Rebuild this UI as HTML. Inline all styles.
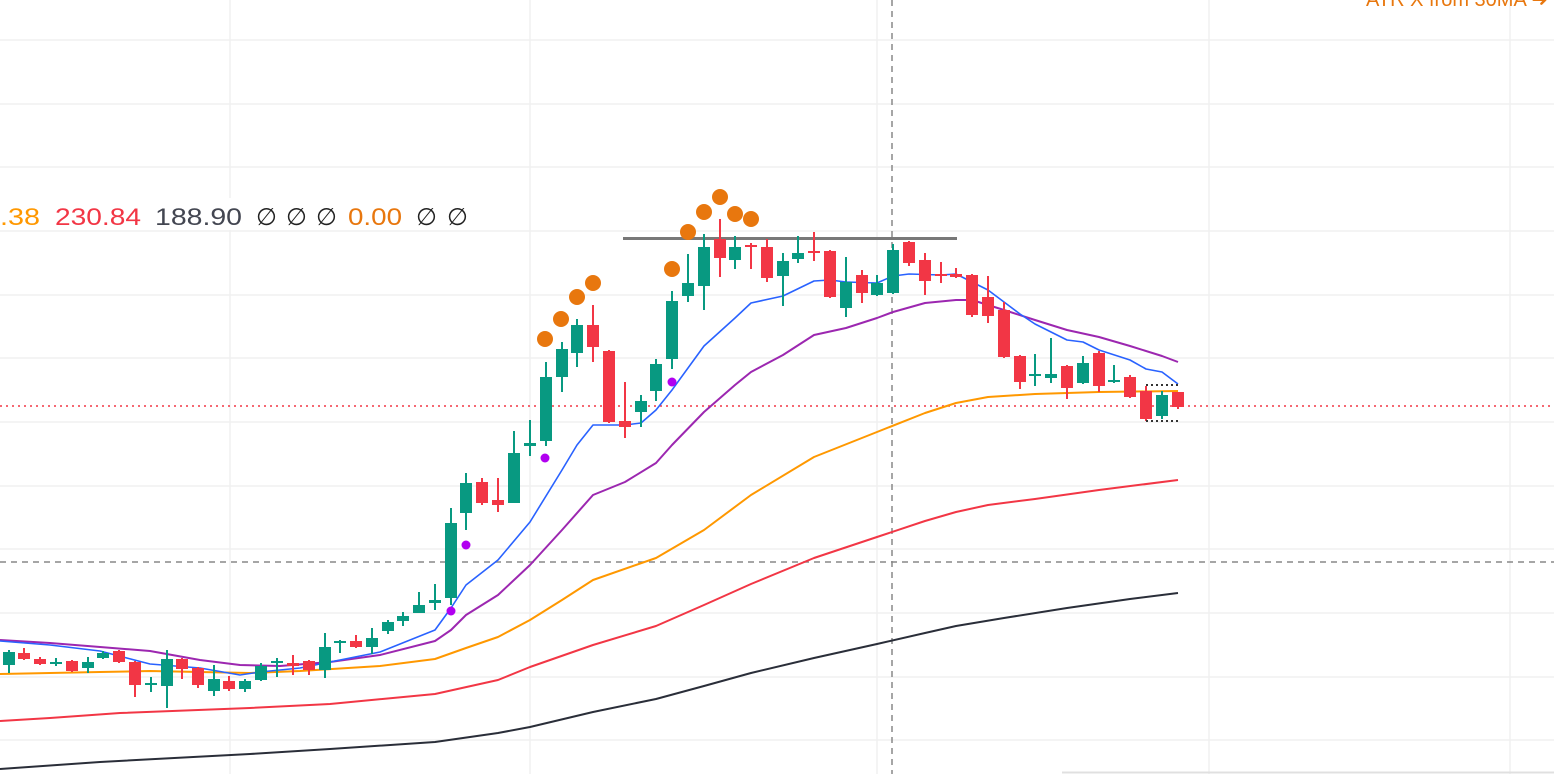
<!DOCTYPE html>
<html><head><meta charset="utf-8"><style>
html,body{margin:0;padding:0;background:#fff;overflow:hidden}
svg{display:block}
text{font-family:"Liberation Sans",sans-serif}
</style></head><body>
<svg width="1554" height="774" viewBox="0 0 1554 774" xmlns="http://www.w3.org/2000/svg">
<g stroke="#f0f0f0" stroke-width="1.5">
<line x1="0" y1="40" x2="1554" y2="40"/><line x1="0" y1="104" x2="1554" y2="104"/><line x1="0" y1="167" x2="1554" y2="167"/><line x1="0" y1="231" x2="1554" y2="231"/><line x1="0" y1="295" x2="1554" y2="295"/><line x1="0" y1="358" x2="1554" y2="358"/><line x1="0" y1="422" x2="1554" y2="422"/><line x1="0" y1="486" x2="1554" y2="486"/><line x1="0" y1="549" x2="1554" y2="549"/><line x1="0" y1="613" x2="1554" y2="613"/><line x1="0" y1="677" x2="1554" y2="677"/><line x1="0" y1="740" x2="1554" y2="740"/>
<line x1="230" y1="0" x2="230" y2="774"/><line x1="530" y1="0" x2="530" y2="774"/><line x1="877" y1="0" x2="877" y2="774"/><line x1="1209" y1="0" x2="1209" y2="774"/><line x1="1510" y1="0" x2="1510" y2="774"/>
</g>
<line x1="1062" y1="772.5" x2="1554" y2="772.5" stroke="#e0e0e0" stroke-width="2"/>
<rect x="0" y="198" width="470" height="32" fill="#fff"/>
<line x1="0" y1="406" x2="1554" y2="406" stroke="#f23645" stroke-width="1.5" stroke-dasharray="2,4"/>
<line x1="0" y1="562" x2="1554" y2="562" stroke="#888" stroke-width="1.5" stroke-dasharray="6,5"/>
<line x1="892" y1="0" x2="892" y2="774" stroke="#888" stroke-width="1.5" stroke-dasharray="6,5"/>
<g fill="none" stroke-width="2" stroke-linejoin="round">
<polyline stroke="#2a2e39" points="0,769 100,762 250,754 330,749 435,742 498,733 530,727 593,712 656,699 704,686 751,673 814,658 877,644 925,633 956,626 1004,618 1067,608 1130,599 1178,593"/>
<polyline stroke="#f23645" points="0,721 50,718 120,713 250,708 330,704 435,694 498,680 530,667 593,645 656,626 704,605 751,584 814,558 877,537 925,521 956,512 988,505 1035,499 1099,490 1178,480"/>
<polyline stroke="#ff9800" points="0,674 100,672 150,671 250,673 300,671 380,666 435,659 466,648 498,637 530,620 562,600 593,580 656,558 704,530 751,495 814,457 877,432 925,413 956,403 988,397 1035,394 1099,392 1178,391"/>
<polyline stroke="#9c27b0" points="0,640 50,643 100,647 150,651 200,660 240,665 280,666 330,662 380,655 435,641 451,630 466,615 498,595 530,565 562,530 593,495 625,482 656,463 672,445 704,412 735,385 751,372 783,355 814,335 846,328 877,318 893,312 925,303 956,300 972,300 1004,310 1035,320 1067,330 1099,337 1130,346 1162,356 1178,362"/>
<polyline stroke="#2962ff" stroke-width="1.6" points="0,641 50,645 100,651 150,664 200,668 240,675 260,672 300,668 330,662 380,652 435,630 451,608 466,585 498,560 530,522 562,470 577,445 593,425 625,425 641,423 656,410 672,390 704,346 735,318 751,303 783,296 814,281 830,280 846,282 877,283 893,276 909,274 941,275 956,274 972,282 988,290 1004,302 1020,314 1035,324 1051,332 1067,340 1083,342 1099,350 1130,360 1146,369 1162,372 1178,384"/>
</g>
<line x1="623" y1="238.5" x2="957" y2="238.5" stroke="#787878" stroke-width="3"/>
<g id="c"></g>
<g fill="#e8770e">
<circle cx="545" cy="339" r="8"/><circle cx="561" cy="319" r="8"/><circle cx="577" cy="297" r="8"/><circle cx="593" cy="283" r="8"/><circle cx="672" cy="269" r="8"/><circle cx="688" cy="232" r="8"/><circle cx="704" cy="212" r="8"/><circle cx="720" cy="197" r="8"/><circle cx="735" cy="214" r="8"/><circle cx="751" cy="219" r="8"/>
</g>
<g fill="#b100f0"><circle cx="451" cy="611" r="4.5"/><circle cx="466" cy="545" r="4.5"/><circle cx="545" cy="458" r="4.5"/><circle cx="672" cy="382" r="4.5"/></g>
<g stroke="#333" stroke-width="2" stroke-dasharray="2,3"><line x1="1146" y1="385" x2="1178" y2="385"/><line x1="1146" y1="421" x2="1178" y2="421"/></g>
<g font-size="24">
<text x="0" y="225" fill="#ff9800" textLength="40" lengthAdjust="spacingAndGlyphs">.38</text>
<text x="55" y="225" fill="#f23645" textLength="86" lengthAdjust="spacingAndGlyphs">230.84</text>
<text x="155" y="225" fill="#434651" textLength="87" lengthAdjust="spacingAndGlyphs">188.90</text>
<text x="256" y="225" fill="#222">∅</text>
<text x="286" y="225" fill="#222">∅</text>
<text x="316" y="225" fill="#222">∅</text>
<text x="348" y="225" fill="#e8770e" textLength="54" lengthAdjust="spacingAndGlyphs">0.00</text>
<text x="416" y="225" fill="#222">∅</text>
<text x="447" y="225" fill="#222">∅</text>
</g>
<text x="1548" y="6" font-size="20" fill="#e8770e" text-anchor="end">ATR X from 30MA ➜</text>
</svg>
<script>
const d=[[9,'g',652,665,650,673],[24,'r',653,659,648,660],[40,'r',659,664,657,665],[56,'g',662,664,658,666],[72,'r',661,671,660,672],[88,'g',662,668,657,673],[103,'g',653,658,651,659],[119,'r',651,662,650,663],[135,'r',662,685,661,697],[151,'g',683,685,677,692],[167,'g',659,686,650,708],[182,'r',659,669,658,679],[198,'r',668,685,667,688],[214,'g',679,691,665,696],[229,'r',681,689,676,691],[245,'g',681,689,679,692],[261,'g',666,680,663,681],[277,'g',661,663,658,677],[293,'r',663,666,655,675],[309,'r',661,670,660,675],[325,'g',647,670,633,678],[340,'g',641,643,640,653],[356,'r',641,647,635,648],[372,'g',638,647,628,654],[388,'g',622,631,620,634],[403,'g',616,621,612,626],[419,'g',605,613,592,613],[435,'g',600,603,584,610],[451,'g',523,598,508,605],[466,'g',483,513,473,530],[482,'r',482,503,478,505],[498,'r',500,505,478,512],[514,'g',453,503,431,503],[530,'g',443,446,420,456],[546,'g',377,441,362,446],[562,'g',349,377,342,392],[577,'g',325,353,319,367],[593,'r',325,347,305,362],[609,'r',351,422,350,423],[625,'r',421,427,382,438],[641,'g',401,412,395,427],[656,'g',364,391,359,401],[672,'g',301,359,291,369],[688,'g',283,296,254,302],[704,'g',247,286,234,310],[720,'r',239,258,219,277],[735,'g',247,260,236,269],[751,'r',245,247,243,269],[767,'r',247,278,239,282],[783,'g',261,276,253,306],[798,'g',253,259,236,263],[814,'r',251,253,232,261],[830,'r',251,297,250,298],[846,'g',282,308,257,317],[862,'r',275,293,270,303],[877,'g',283,295,275,296],[893,'g',250,293,244,294],[909,'r',242,263,241,266],[925,'r',260,281,253,295],[941,'r',274,276,262,283],[956,'r',274,277,268,278],[972,'r',275,315,274,317],[988,'r',297,316,276,323],[1004,'r',310,357,302,358],[1020,'r',356,382,355,389],[1035,'g',374,376,354,386],[1051,'g',374,378,338,383],[1067,'r',366,388,365,399],[1083,'g',363,383,356,384],[1099,'r',353,386,351,392],[1114,'g',380,382,365,383],[1130,'r',377,397,375,398],[1146,'r',391,419,386,421],[1162,'g',395,416,391,419],[1178,'r',392,407,392,409]];
let s='';for(const[x,c,t,b,h,l]of d){const col=c=='g'?'#089981':'#f23645';s+=`<line x1="${x}" y1="${h}" x2="${x}" y2="${l}" stroke="${col}" stroke-width="2"/><rect x="${x-6}" y="${t}" width="12" height="${Math.max(b-t,2)}" fill="${col}"/>`;}
document.getElementById('c').innerHTML=s;
</script>
</body></html>
